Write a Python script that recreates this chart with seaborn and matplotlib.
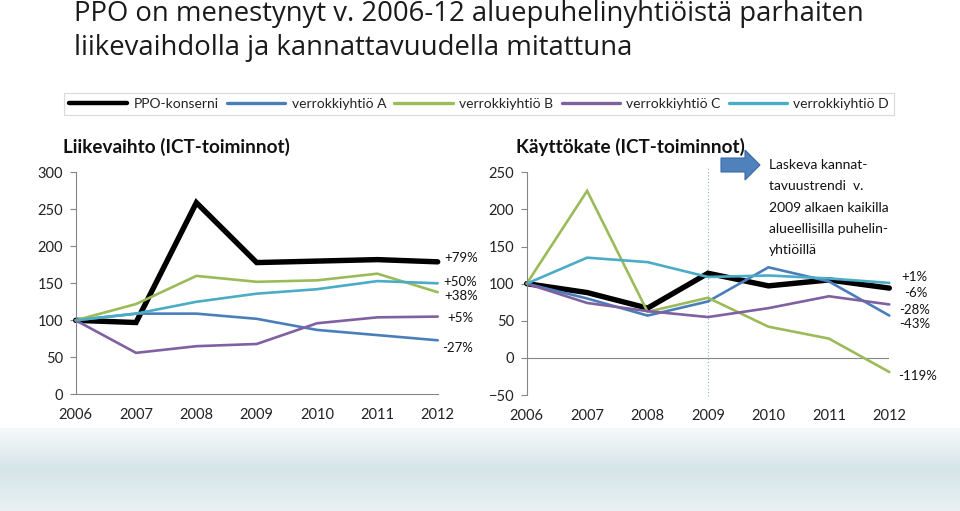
import matplotlib
matplotlib.use('Agg')
import matplotlib.pyplot as plt
import matplotlib.patches as mpatches
from matplotlib.lines import Line2D
from matplotlib.colors import LinearSegmentedColormap
import numpy as np
import seaborn as sns

########### DATA ##################################
years = [2006, 2007, 2008, 2009, 2010, 2011, 2012]
series = ['PPO-konserni', 'verrokkiyhtiö A', 'verrokkiyhtiö B',
          'verrokkiyhtiö C', 'verrokkiyhtiö D']

# Liikevaihto, indeksi 2006 = 100
lv_ppo = [100, 97, 259, 178, 180, 182, 179]
lv_a = [100, 109, 109, 102, 87, 80, 73]
lv_b = [100, 122, 160, 152, 154, 163, 138]
lv_c = [100, 56, 65, 68, 96, 104, 105]
lv_d = [100, 109, 125, 136, 142, 153, 150]

# Käyttökate, indeksi 2006 = 100
kk_ppo = [100, 88, 67, 114, 97, 105, 94]
kk_a = [100, 80, 57, 76, 122, 103, 57]
kk_b = [100, 225, 62, 81, 42, 26, -19]
kk_c = [100, 74, 63, 55, 67, 83, 72]
kk_d = [100, 135, 129, 109, 111, 107, 101]

lv_changes = ['+79%', '+50%', '+38%', '+5%', '-27%']
kk_changes = ['+1%', '-6%', '-28%', '-43%', '-119%']

note_lines = ['Laskeva kannat-', 'tavuustrendi  v.', '2009 alkaen kaikilla',
              'alueellisilla puhelin-', 'yhtiöillä']

########### STYLE #################################
sns.set_style('white')
plt.rcParams['font.family'] = ['Lato', 'DejaVu Sans']

colors = ['#000000', '#4a7ebb', '#9bbb59', '#7f60a0', '#4bacc6']
widths = [3.9, 1.9, 1.9, 1.9, 1.9]
spine_col = '#868686'
W, H = 960, 511

fig = plt.figure(figsize=(9.6, 5.11), dpi=100)

# overlay in pixel coordinates for texts and decorations
ov = fig.add_axes([0, 0, 1, 1], zorder=0)
ov.axis('off')

# decorative band at the bottom
grad = np.linspace(0, 1, 100).reshape(-1, 1)
band_cmap = LinearSegmentedColormap.from_list('band', ['#f6f9fa', '#d6e5e8', '#e9f1f3'])
ov.imshow(grad, extent=[0, W, H, 428], aspect='auto', cmap=band_cmap, zorder=0)
ov.set_xlim(0, W)
ov.set_ylim(H, 0)


def px_axes(x0, x1, ytop, ybot):
    return fig.add_axes([x0 / W, (H - ybot) / H, (x1 - x0) / W, (ybot - ytop) / H], zorder=1)


def draw(ax, vals, ylim, yticks):
    for v, c, lw in zip(vals, colors, widths):
        sns.lineplot(x=years, y=v, ax=ax, color=c, linewidth=lw, clip_on=False,
                     solid_joinstyle='miter')
    ax.set_facecolor('none')
    ax.set_xlim(years[0], years[-1])
    ax.set_ylim(*ylim)
    ax.set_yticks(yticks)
    ax.set_xticks(years)
    ax.set_xlabel('')
    ax.set_ylabel('')
    ax.tick_params(axis='y', left=True, length=4, width=0.8, color=spine_col,
                   labelsize=10.5, pad=5, labelcolor='#222222')
    ax.tick_params(axis='x', length=0, labelsize=10.5, pad=10, labelcolor='#222222')
    for s in ['top', 'right']:
        ax.spines[s].set_visible(False)
    ax.spines['left'].set_color(spine_col)
    ax.spines['bottom'].set_color(spine_col)


############### LIIKEVAIHTO ########################
ax1 = px_axes(75.7, 437.7, 172.3, 394.3)
draw(ax1, [lv_ppo, lv_a, lv_b, lv_c, lv_d], (0, 300), range(0, 301, 50))

############### KÄYTTÖKATE #########################
ax2 = px_axes(526.7, 889.3, 172.3, 395.0)
draw(ax2, [kk_ppo, kk_a, kk_b, kk_c, kk_d], (-50, 250), range(-50, 251, 50))
ax2.spines['bottom'].set_visible(False)
ax2.axhline(0, color=spine_col, linewidth=0.8, zorder=0)
ax2.plot([2009, 2009], [-52, 257], color='#8fb3c4', linewidth=0.8,
         linestyle=(0, (1, 2)), clip_on=False, zorder=0)

############### TEXTS ##############################
title_font = ['Open Sans', 'DejaVu Sans']
ov.text(74, 21.5, 'PPO on menestynyt v. 2006-12 aluepuhelinyhtiöistä parhaiten',
        fontsize=19.8, family=title_font, color='#1a1a1a', va='baseline')
ov.text(74, 54.5, 'liikevaihdolla ja kannattavuudella mitattuna',
        fontsize=19.8, family=title_font, color='#1a1a1a', va='baseline')

ov.text(63, 146.5, 'Liikevaihto (ICT-toiminnot)', fontsize=13.6, fontweight='bold',
        va='center', color='#111111')
ov.text(516.5, 146.5, 'Käyttökate (ICT-toiminnot)', fontsize=13.6, fontweight='bold',
        va='center', color='#111111')

for t, (x, y) in zip(lv_changes, [(461, 258), (460, 281.7), (461, 296), (460.5, 318), (458, 348)]):
    ov.text(x, y, t, fontsize=9.5, ha='center', va='center', color='#111111')
for t, (x, y) in zip(kk_changes, [(914, 276.7), (915.7, 292.7), (914.7, 310), (914.7, 324), (917.7, 376)]):
    ov.text(x, y, t, fontsize=9.5, ha='center', va='center', color='#111111')

for i, line in enumerate(note_lines):
    ov.text(769, 165 + i * 21.3, line, fontsize=10, va='center', color='#111111')

arrow = mpatches.Polygon([(721, 158), (745, 158), (745, 150), (760, 165),
                          (745, 180), (745, 172), (721, 172)], closed=True,
                         facecolor='#4f81bd', edgecolor='#3a6aa3', linewidth=0.8, zorder=2)
ov.add_patch(arrow)

############### LEGEND #############################
handles = [Line2D([], [], color=c, linewidth=lw) for c, lw in zip(colors, [3.2, 2.4, 2.4, 2.4, 2.4])]
leg = fig.legend(handles, series, loc='center', bbox_to_anchor=(479 / W, (H - 104) / H),
                 ncol=5, frameon=True, fancybox=False, handlelength=4.2, handletextpad=0.45,
                 columnspacing=0.6, borderpad=0.35, prop={'size': 10})
leg.get_frame().set_edgecolor('#d0d0d0')
leg.get_frame().set_linewidth(0.8)
for txt in leg.get_texts():
    txt.set_color('#222222')

plt.savefig('out.png', dpi=100)
